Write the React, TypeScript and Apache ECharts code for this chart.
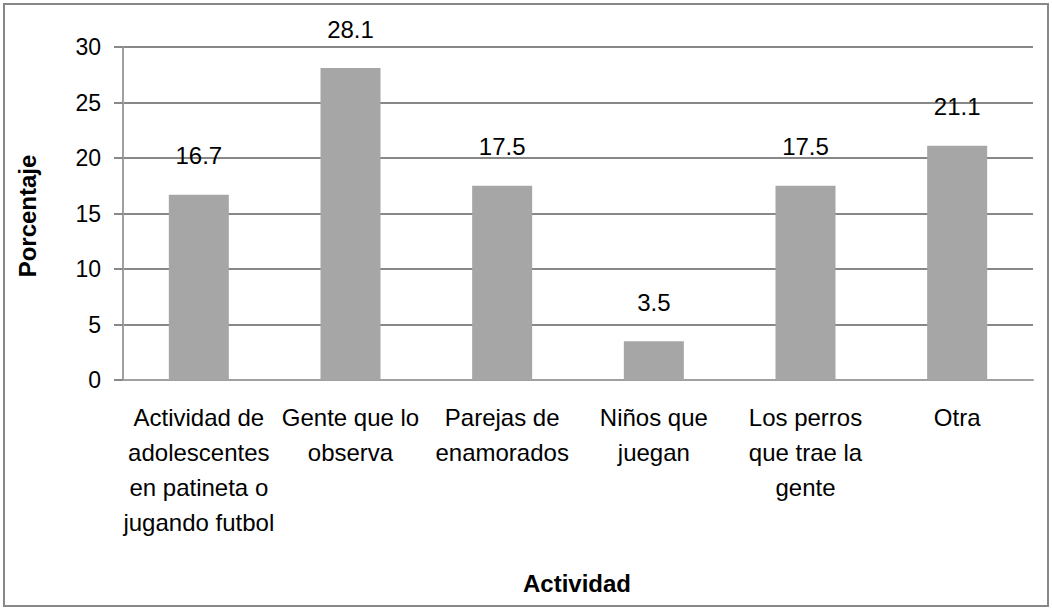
import React, { useEffect, useRef } from "react";
import * as echarts from "echarts";

const categories = [
  "Actividad de\nadolescentes\nen patineta o\njugando futbol",
  "Gente que lo\nobserva",
  "Parejas de\nenamorados",
  "Niños que\njuegan",
  "Los perros\nque trae la\ngente",
  "Otra",
];
const values = [16.7, 28.1, 17.5, 3.5, 17.5, 21.1];
const yTicks = { min: 0, max: 30, interval: 5 };
const xTitle = "Actividad";
const yTitle = "Porcentaje";

const FONT = "'Liberation Sans', Arial, sans-serif";

export default function App() {
  const ref = useRef<HTMLDivElement>(null);
  useEffect(() => {
    document.body.style.margin = "0";
    if (!ref.current) return;
    const chart = echarts.init(ref.current, undefined, { renderer: "svg" });
    chart.setOption({
      animation: false,
      backgroundColor: "#ffffff",
      textStyle: { fontFamily: FONT },
      grid: { left: 123, right: 19, top: 47, bottom: 230, containLabel: false },
      graphic: [
        {
          type: "rect",
          shape: { x: 4, y: 4, width: 1044, height: 602 },
          style: { fill: "none", stroke: "#888888", lineWidth: 2 },
          silent: true,
        },
        {
          type: "text",
          x: 577,
          y: 583,
          style: {
            text: xTitle,
            fontFamily: FONT,
            fontSize: 24,
            fontWeight: "bold",
            fill: "#000",
            align: "center",
            verticalAlign: "middle",
          },
        },
        {
          type: "text",
          x: 27,
          y: 216,
          rotation: Math.PI / 2,
          style: {
            text: yTitle,
            fontFamily: FONT,
            fontSize: 24,
            fontWeight: "bold",
            fill: "#000",
            align: "center",
            verticalAlign: "middle",
          },
        },
      ],
      xAxis: {
        type: "category",
        data: categories,
        axisLine: { show: true, lineStyle: { color: "#a0a0a0", width: 2 } },
        axisTick: { show: false },
        axisLabel: {
          interval: 0,
          color: "#000",
          fontSize: 24,
          fontFamily: FONT,
          lineHeight: 35,
          margin: 20,
          align: "center",
        },
      },
      yAxis: {
        type: "value",
        min: yTicks.min,
        max: yTicks.max,
        interval: yTicks.interval,
        axisLine: { show: true, lineStyle: { color: "#a0a0a0", width: 2 } },
        axisTick: { show: true, length: 9, lineStyle: { color: "#888888", width: 2 } },
        splitLine: { show: true, lineStyle: { color: "#888888", width: 2 } },
        axisLabel: { color: "#000", fontSize: 23, fontFamily: FONT, margin: 22 },
      },
      series: [
        {
          type: "bar",
          data: values,
          barWidth: 60,
          itemStyle: { color: "#a6a6a6" },
          label: {
            show: true,
            position: "top",
            distance: 27,
            color: "#000",
            fontSize: 24,
            fontFamily: FONT,
            formatter: (p: any) => p.value.toFixed(1),
          },
        },
      ],
    });
    return () => chart.dispose();
  }, []);
  return <div ref={ref} style={{ width: 1052, height: 610 }} />;
}
